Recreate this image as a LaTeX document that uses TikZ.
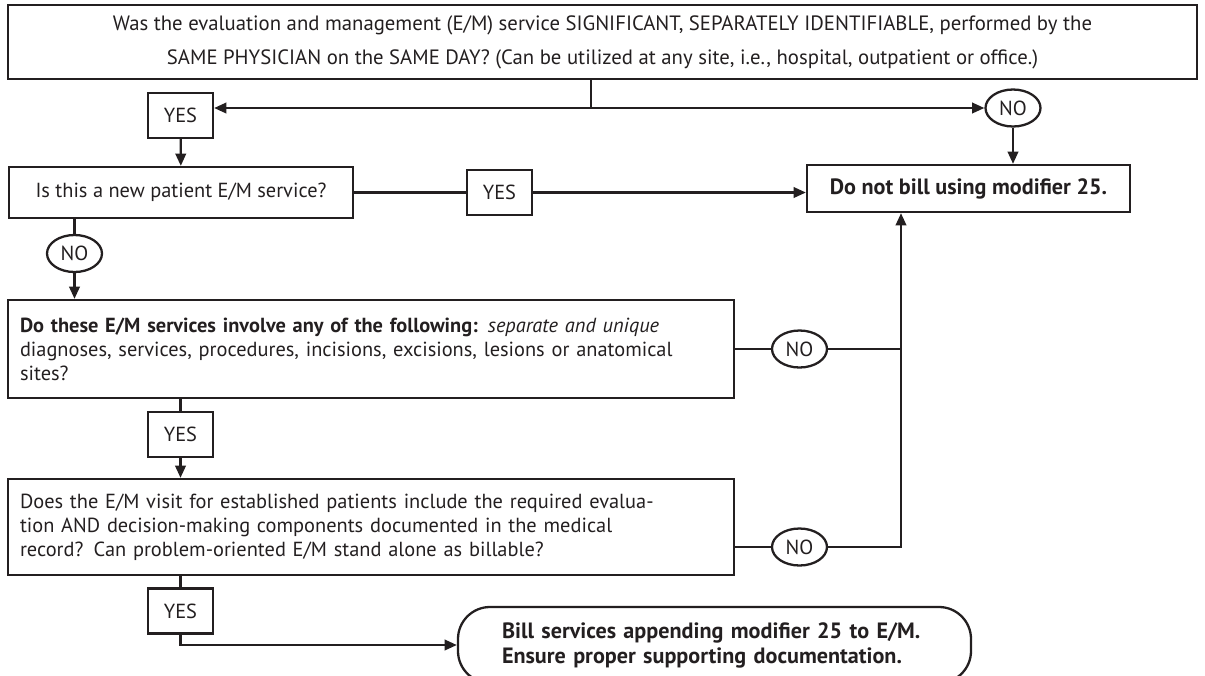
\documentclass[tikz,border=0pt]{standalone}
\usepackage{fontspec}
\setmainfont{PT Sans}
\usepackage{tikz}
\usetikzlibrary{shapes.geometric, arrows.meta, positioning, calc}
\definecolor{ink}{RGB}{35,31,32}
\newcommand{\flowsize}{\fontsize{11.6}{13.6}\selectfont}
\newcommand{\billsize}{\fontsize{12.6}{14.2}\selectfont\bfseries}

\begin{document}
\begin{tikzpicture}[
  line width=1.3pt, color=ink,
  every node/.style={font=\flowsize},
  qbox/.style={draw, rectangle, inner sep=0pt},
  yesbox/.style={draw, rectangle, minimum width=1.3cm, minimum height=0.9cm, inner sep=0pt},
  nobubble/.style={draw, ellipse, minimum width=1.1cm, minimum height=0.74cm, inner sep=0pt},
  flow/.style={-{Triangle[length=7pt,width=6pt]}}
]
\clip (0,0) rectangle (24.1,-13.5);

\node[qbox, minimum width=23.78cm, minimum height=1.48cm, align=center,
  font=\fontsize{11.8}{19.4}\selectfont] (top) at (12.05,-0.84)
  {Was the evaluation and management (E/M) service SIGNIFICANT, SEPARATELY IDENTIFIABLE, performed by the\\
   SAME PHYSICIAN on the SAME DAY? (Can be utilized at any site, i.e., hospital, outpatient or office.)};

\node[yesbox] (yes1) at (3.61,-2.31) {YES};
\node[nobubble] (no1) at (20.26,-2.16) {NO};
\coordinate (split) at (11.82,-2.16);
\draw (split |- top.south) -- (split);
\draw[flow] (split) -- (split -| yes1.east);
\draw[flow] (split) -- (no1);

\node[qbox, minimum width=6.88cm, minimum height=1.02cm] (q2) at (3.62,-3.85) {Is this a new patient E/M service?};
\node[yesbox] (yes2) at (9.99,-3.85) {YES};
\node[qbox, minimum width=6.46cm, minimum height=0.94cm, font=\billsize] (nobill) at (19.37,-3.77) {Do not bill using modifier 25.};
\draw[flow] (yes1) -- (q2);
\draw (q2) -- (yes2);
\draw[flow] (yes2) -- (yes2 -| nobill.west);
\draw[flow] (no1) -- (no1 |- nobill.north);

\node[nobubble] (no2) at (1.49,-5.07) {NO};
\node[qbox, text width=14.04cm, inner xsep=0.24cm, minimum height=1.96cm, align=left] (q3) at (7.42,-6.98)
  {\textbf{Do these E/M services involve any of the following:} \textit{separate and unique}\\
   diagnoses, services, procedures, incisions, excisions, lesions or anatomical\\
   sites?};
\node[nobubble] (no3) at (15.99,-6.98) {NO};
\draw (no2 |- q2.south) -- (no2);
\draw[flow] (no2) -- (no2 |- q3.north);
\draw (q3) -- (no3);

\node[yesbox] (yes3) at (3.61,-8.69) {YES};
\node[qbox, text width=14.04cm, inner xsep=0.24cm, minimum height=1.92cm, align=left] (q4) at (7.42,-10.54)
  {Does the E/M visit for established patients include the required evalua-\\
   tion AND decision-making components documented in the medical\\
   record? Can problem-oriented E/M stand alone as billable?};
\node[nobubble] (no4) at (15.99,-10.94) {NO};
\coordinate (trunk) at (18.02,-10.94);
\draw (yes3 |- q3.south) -- (yes3);
\draw[flow] (yes3) -- (yes3 |- q4.north);
\draw (no4 -| q4.east) -- (no4);
\draw[flow] (no4) -- (trunk) -- (trunk |- nobill.south);
\draw (no3) -- (no3 -| trunk);

\node[yesbox] (yes4) at (3.61,-12.22) {YES};
\node[qbox, rounded corners=0.64cm, text width=8.5cm, inner xsep=0.88cm, minimum height=1.52cm,
  align=left, font=\billsize] (bill) at (14.29,-12.9)
  {Bill services appending modifier 25 to E/M.\\
   Ensure proper supporting documentation.};
\draw (yes4 |- q4.south) -- (yes4);
\draw[flow] (yes4) -- (yes4 |- bill) -- (bill.west);
\end{tikzpicture}
\end{document}
